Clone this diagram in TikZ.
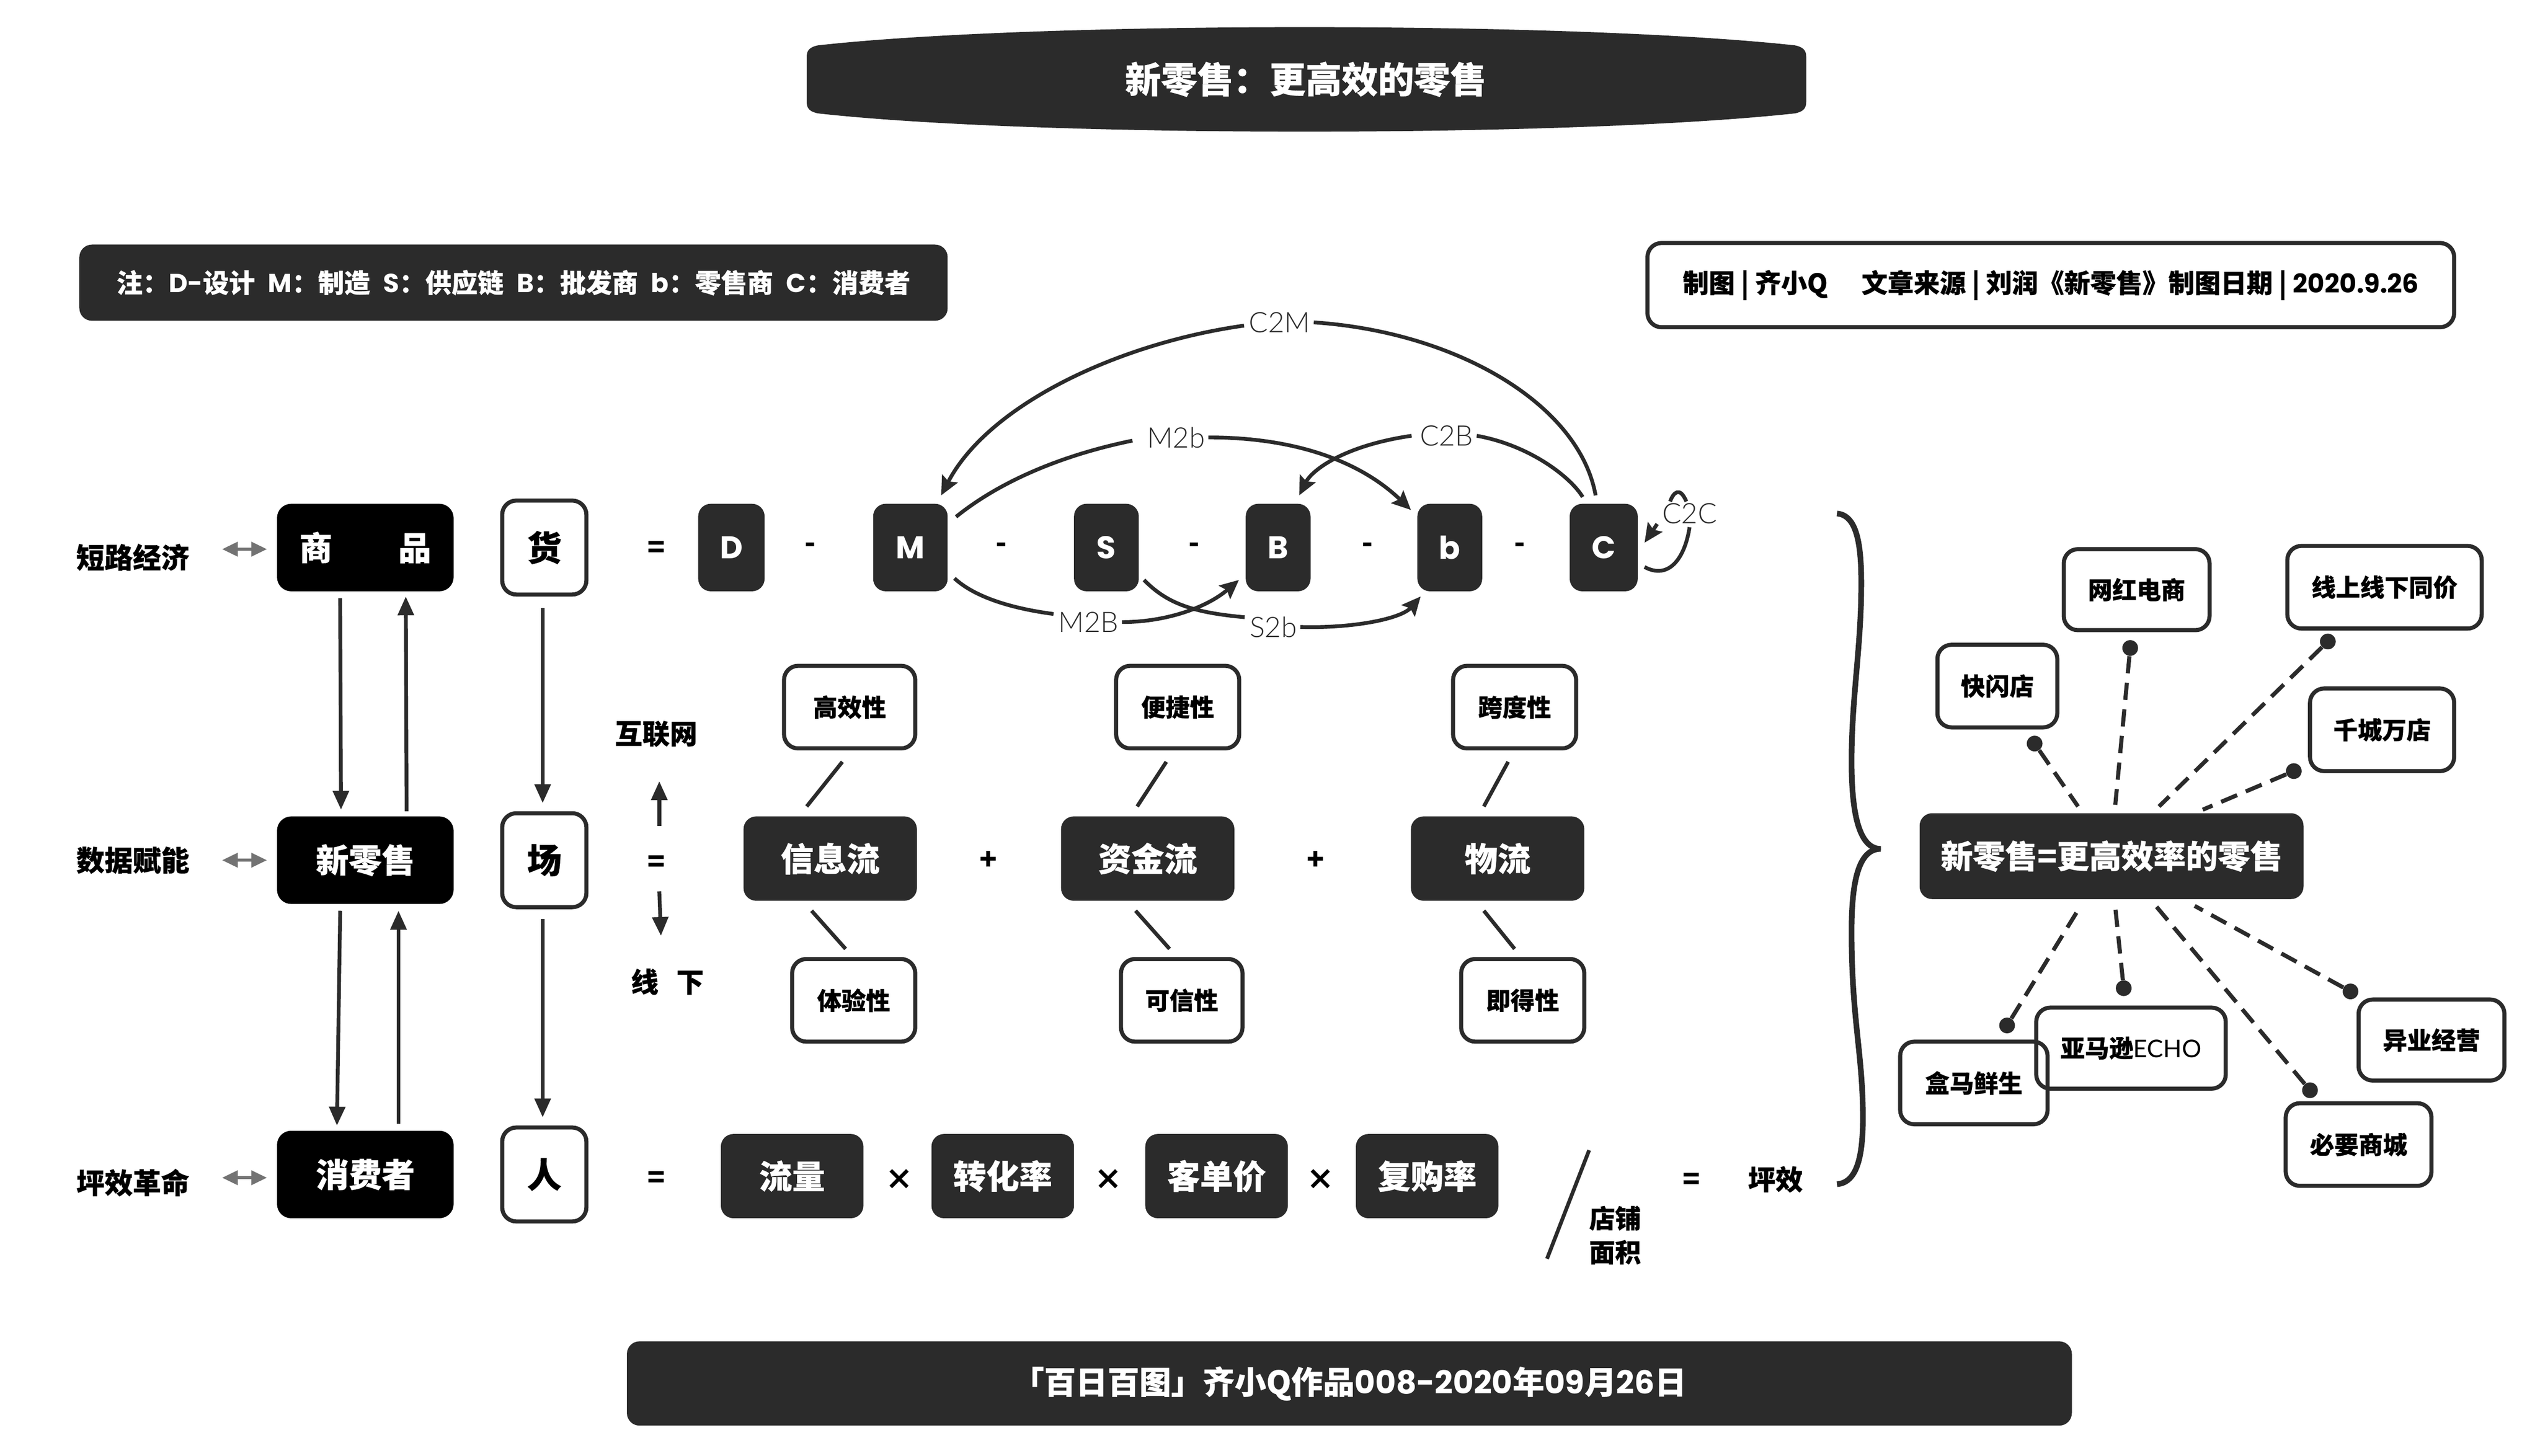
\documentclass[tikz,border=0pt]{standalone}
\usepackage{fontspec}
\setmainfont{Noto Sans CJK SC}[BoldFeatures={FakeBold=0.4}]
\newfontfamily\lafont{Poppins}
\newcommand\la[1]{{\lafont #1}}
\newfontfamily\lt{Lato Light}
\newfontfamily\ltr{Lato}
\usetikzlibrary{arrows.meta,calc}
\definecolor{dk}{HTML}{2B2B2B}
\newcommand\fs[1]{\fontsize{#1}{#1}\selectfont\bfseries}
\newcommand\bx[7]{\pgfmathsetmacro\cx{(#3+#5)/2}\pgfmathsetmacro\cy{(#4+#6)/2}\pgfmathsetmacro\bw{(#5-#3)*0.03624}\pgfmathsetmacro\bh{(#6-#4)*0.03624}\node[#2,minimum width=\bw cm,minimum height=\bh cm] (#1) at (\cx,\cy) {#7};}
\tikzset{
 dkbox/.style={fill=dk,text=white,rounded corners=8pt,inner sep=0pt,align=center},
 blkbox/.style={fill=black,text=white,rounded corners=9pt,inner sep=0pt,align=center},
 wbox/.style={draw=dk,line width=2.6pt,text=black,rounded corners=9pt,inner sep=0pt,align=center},
 txt/.style={inner sep=0pt,text=black,align=center},
 thin label/.style={inner sep=2pt,text=dk,font=\lt\fontsize{18}{18}\selectfont},
 arr/.style={draw=dk,line width=2.4pt,-{Triangle[width=10pt,length=12pt]}},
 curv/.style={draw=dk,line width=2.4pt,-{Stealth[width=11pt,length=12pt,inset=2pt]}},
 plain/.style={draw=dk,line width=2.4pt},
 garr/.style={draw=black!55,line width=2pt,{Triangle[width=9pt,length=10pt]}-{Triangle[width=9pt,length=10pt]}},
 dsh/.style={draw=dk,line width=2.6pt,dash pattern=on 11pt off 6pt},
 dotn/.style={circle,fill=dk,inner sep=0pt,minimum size=10pt},
}
\begin{document}
\begin{tikzpicture}[x=0.03624cm,y=-0.03624cm]
\useasboundingbox (0,0) rectangle (1568,898.5);
\fill[white] (0,0) rectangle (1568,898.5);
% title
\fill[dk] (505,28) .. controls (640,13) and (970,13) .. (1108,28) .. controls (1113,29) and (1115,31) .. (1115,35) -- (1115,63) .. controls (1115,67) and (1113,69) .. (1108,70) .. controls (970,85) and (640,85) .. (505,70) .. controls (500,69) and (498,67) .. (498,63) -- (498,35) .. controls (498,31) and (500,29) .. (505,28) -- cycle;
\node[txt,text=white] (title) at (806,49) {\fs{23}新零售：更高效的零售};
\bx{note}{dkbox}{49}{151}{585}{198}{\fs{16.6}注：\la{D-}设计\hspace{.5em}\la{M}：制造\hspace{.5em}\la{S}：供应链\hspace{.5em}\la{B}：批发商\hspace{.5em}\la{b}：零售商\hspace{.5em}\la{C}：消费者}
\bx{info}{wbox}{1017}{150}{1515}{202}{\fs{16.6}制图 | 齐小Q\hspace{1.3em}文章来源 | 刘润《新零售》制图日期 | \la{2020.9.26}}
\bx{bar}{dkbox}{387}{828}{1279}{880}{\fs{20.2}「百日百图」齐小Q作品\la{008-2020}年\la{09}月\la{26}日}
% left labels
\node[txt] (l1) at (82,344) {\fs{18}短路经济};
\node[txt] (l2) at (82,531) {\fs{18}数据赋能};
\node[txt] (l3) at (82,730) {\fs{18}坪效革命};
\bx{sp}{blkbox}{171}{311}{280}{365}{\fs{21}商\hspace{2em}品}
\bx{xls}{blkbox}{171}{504}{280}{558}{\fs{21}新零售}
\bx{xfz}{blkbox}{171}{698}{280}{752}{\fs{21}消费者}
\draw[garr] ($(l1.east)+(20,-5)$) -- ($(sp.west)+(-6,1)$);
\draw[garr] ($(l2.east)+(20,0)$) -- ($(xls.west)+(-6,0)$);
\draw[garr] ($(l3.east)+(20,-3)$) -- ($(xfz.west)+(-6,2)$);
\bx{huo}{wbox}{310}{309}{362}{367}{\fs{22}货}
\bx{chang}{wbox}{310}{502}{362}{560}{\fs{22}场}
\bx{ren}{wbox}{310}{696}{362}{754}{\fs{22}人}
\draw[arr] ($(sp.south)+(-15.5,4)$) -- ($(xls.north)+(-15,-4)$);
\draw[arr] ($(xls.north)+(25.5,-3)$) -- ($(sp.south)+(25,3)$);
\draw[arr] ($(xls.south)+(-15.5,4)$) -- ($(xfz.north)+(-17.5,-3)$);
\draw[arr] ($(xfz.north)+(20.5,-4)$) -- ($(xls.south)+(20.5,4)$);
\draw[arr] ($(huo.south)+(-1,7)$) -- ($(chang.north)+(-1,-5)$);
\draw[arr] ($(chang.south)+(-1,6)$) -- ($(ren.north)+(-1,-5)$);
% row 1
\node[txt] (eq1) at (405,339) {\fs{18}=};
\bx{D}{dkbox}{431}{311}{472}{365}{\fs{20}\la{D}}
\bx{M}{dkbox}{539}{311}{585}{365}{\fs{20}\la{M}}
\bx{S}{dkbox}{663}{311}{703}{365}{\fs{20}\la{S}}
\bx{B}{dkbox}{769}{311}{809}{365}{\fs{20}\la{B}}
\bx{b}{dkbox}{875}{311}{915}{365}{\fs{20}\la{b}}
\bx{C}{dkbox}{969}{311}{1011}{365}{\fs{20}\la{C}}
\node[txt] (m1) at (500,338) {\fs{18}-};
\node[txt] (m2) at (618,338) {\fs{18}-};
\node[txt] (m3) at (737,338) {\fs{18}-};
\node[txt] (m4) at (844,338) {\fs{18}-};
\node[txt] (m5) at (938,338) {\fs{18}-};
\node[thin label] (c2m) at (790,199) {C2M};
\node[thin label] (m2b) at (726,270) {M2b};
\node[thin label] (c2b) at (893,269) {C2B};
\node[thin label] (m2bb) at (672,384) {M2B};
\node[thin label] (s2b) at (786,387) {S2b};
\node[thin label] (c2c) at (1043,317) {C2C};
\draw[curv] ($(c2m.west)+(-1,2)$) .. controls (690,212) and (610,250) .. ($(M.north)+(19,-5)$);
\draw[plain] (c2m.east) .. controls (900,205) and (975,250) .. ($(C.north)+(-5,-5)$);
\draw[plain] ($(M.east)+(5,-19)$) .. controls (620,295) and (660,280) .. ($(m2b.west)+(-7,2)$);
\draw[curv] (m2b.east) .. controls (800,270) and (840,285) .. ($(b.north)+(-24,4)$);
\draw[curv] ($(c2b.west)+(-3,0)$) .. controls (830,275) and (810,290) .. ($(B.north)+(13,-5)$);
\draw[plain] (c2b.east) .. controls (945,275) and (970,295) .. ($(C.north)+(-13,-4)$);
\draw[plain] ($(M.east)+(4,19)$) .. controls (600,367) and (620,375) .. ($(m2bb.west)+(-1,-5)$);
\draw[curv] (m2bb.east) .. controls (720,384) and (745,375) .. ($(B.west)+(-4,20)$);
\draw[plain] ($(S.east)+(3,20)$) .. controls (720,372) and (735,378) .. ($(s2b.west)+(-1,-6)$);
\draw[curv] (s2b.east) .. controls (835,388) and (865,382) .. ($(b.south)+(-18,3)$);
\draw[plain] ($(C.east)+(4,12)$) .. controls (1030,358) and (1040,345) .. (c2c.south);
\draw[plain] ($(c2c.north)+(-12,1)$) .. controls (1033,304) and (1037,300) .. ($(c2c.north)+(-2,1)$);
\draw[curv] ($(c2c.south west)+(-1,-2)$) -- ($(C.east)+(4,-3)$);
% row 2
\node[txt] (web) at (405,453) {\fs{17.5}互联网};
\node[txt] (off) at (412,606) {\fs{17.5}线\hspace{0.65em}下};
\node[txt] (eq2) at (405,533) {\fs{18}=};
\draw[arr] ($(eq2.north)+(2,-18)$) -- ($(web.south)+(2,21)$);
\draw[arr] ($(eq2.south)+(2,12)$) -- ($(off.north)+(-4,-20)$);
\bx{xxl}{dkbox}{459}{504}{566}{556}{\fs{21}信息流}
\bx{zjl}{dkbox}{655}{504}{762}{556}{\fs{21}资金流}
\bx{wl}{dkbox}{871}{504}{978}{556}{\fs{21}物流}
\node[txt] (p1) at (610,531) {\fs{18}+};
\node[txt] (p2) at (812,531) {\fs{18}+};
\bx{gx}{wbox}{484}{411}{565}{462}{\fs{15.5}高效性}
\bx{bj}{wbox}{689}{411}{765}{462}{\fs{15.5}便捷性}
\bx{kd}{wbox}{897}{411}{973}{462}{\fs{15.5}跨度性}
\bx{ty}{wbox}{489}{592}{565}{643}{\fs{15.5}体验性}
\bx{kx}{wbox}{692}{592}{767}{643}{\fs{15.5}可信性}
\bx{jd}{wbox}{902}{592}{978}{643}{\fs{15.5}即得性}
\draw[plain] ($(gx.south)+(-4.5,7)$) -- ($(xxl.north)+(-14.5,-6)$);
\draw[plain] ($(bj.south)+(-7,7)$) -- ($(zjl.north)+(-6.5,-6)$);
\draw[plain] ($(kd.south)+(-4,7)$) -- ($(wl.north)+(-8.5,-6)$);
\draw[plain] ($(xxl.south)+(-11.5,6)$) -- ($(ty.north)+(-5,-5)$);
\draw[plain] ($(zjl.south)+(-7.5,6)$) -- ($(kx.north)+(-7.5,-5)$);
\draw[plain] ($(wl.south)+(-8.5,6)$) -- ($(jd.north)+(-5,-5)$);
% row 3
\node[txt] (eq3) at (405,728) {\fs{18}=};
\bx{ll}{dkbox}{445}{700}{533}{752}{\fs{21}流量}
\bx{zh}{dkbox}{575}{700}{663}{752}{\fs{21}转化率}
\bx{kj}{dkbox}{707}{700}{795}{752}{\fs{21}客单价}
\bx{fg}{dkbox}{837}{700}{925}{752}{\fs{21}复购率}
\node[txt] (t1) at (555,728) {\fs{18}×};
\node[txt] (t2) at (684,728) {\fs{18}×};
\node[txt] (t3) at (815,728) {\fs{18}×};
\coordinate (sl1) at (981,710);
\coordinate (sl2) at (955,777);
\draw[plain] (sl1) -- (sl2);
\node[txt] (dp) at (997,752) {\fs{16.5}店铺};
\node[txt] (mj) at (997,773) {\fs{16.5}面积};
\node[txt] (eq4) at (1044,729) {\fs{18}=};
\node[txt] (px) at (1096,728) {\fs{17.5}坪效};
% brace
\draw[draw=dk,line width=3.6pt] (1134,317) .. controls (1146,318) and (1149,335) .. (1149,360) .. controls (1149,400) and (1143,430) .. (1143,470) .. controls (1143,500) and (1147,524) .. (1161,524) .. controls (1147,524) and (1143,545) .. (1143,575) .. controls (1143,630) and (1150,650) .. (1150,690) .. controls (1150,715) and (1146,730) .. (1134,731);
% hub
\bx{hub}{dkbox}{1185}{502}{1422}{555}{\fs{20.5}新零售=更高效率的零售}
\bx{s1}{wbox}{1196}{398}{1270}{449}{\fs{15.5}快闪店}
\bx{s2}{wbox}{1274}{339}{1364}{389}{\fs{15.5}网红电商}
\bx{s3}{wbox}{1412}{337}{1532}{388}{\fs{15.5}线上线下同价}
\bx{s4}{wbox}{1426}{425}{1515}{476}{\fs{15.5}千城万店}
\bx{s5}{wbox}{1173}{643}{1264}{694}{\fs{15.5}盒马鲜生}
\bx{s6}{wbox}{1257}{622}{1374}{672}{\fs{15.5}亚马逊{\mdseries\ltr ECHO}}
\bx{s7}{wbox}{1456}{617}{1546}{667}{\fs{15.5}异业经营}
\bx{s8}{wbox}{1411}{681}{1501}{732}{\fs{15.5}必要商城}
\node[dotn] (d1) at (1256,459) {};
\node[dotn] (d2) at (1315,400) {};
\node[dotn] (d3) at (1437,396) {};
\node[dotn] (d4) at (1416,476) {};
\node[dotn] (d5) at (1239,633) {};
\node[dotn] (d6) at (1311,610) {};
\node[dotn] (d7) at (1451,612) {};
\node[dotn] (d8) at (1426,673) {};
\draw[dsh] (d1) -- ($(hub.north west)+(98,-4)$);
\draw[dsh] (d2) -- ($(hub.north west)+(121,-5)$);
\draw[dsh] (d3) -- ($(hub.north west)+(148,-4)$);
\draw[dsh] (d4) -- ($(hub.north west)+(175,-2)$);
\draw[dsh] (d5) -- ($(hub.south west)+(99,5)$);
\draw[dsh] (d6) -- ($(hub.south west)+(121,5)$);
\draw[dsh] (d7) -- ($(hub.south west)+(170,4)$);
\draw[dsh] (d8) -- ($(hub.south west)+(146,4)$);
\end{tikzpicture}
\end{document}
